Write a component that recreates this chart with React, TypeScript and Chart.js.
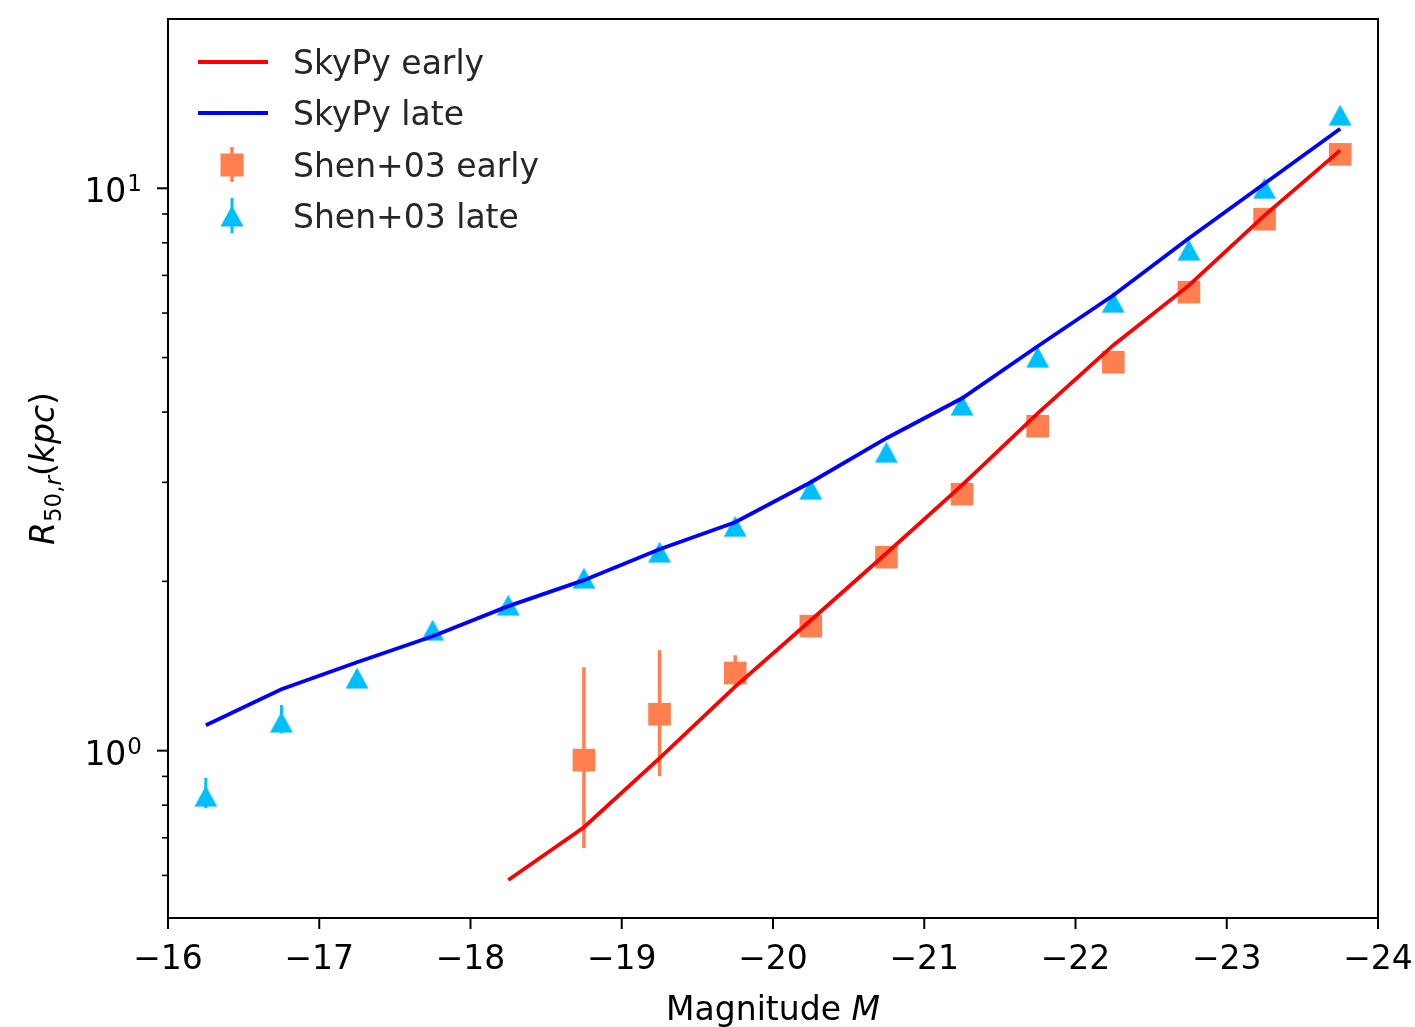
import React, { useEffect, useRef } from "react";
import { Chart, registerables } from "chart.js";
Chart.register(...registerables);

// ---------- data ----------
const lateMagnitudes = [-16.25, -16.75, -17.25, -17.75, -18.25, -18.75, -19.25, -19.75, -20.25, -20.75, -21.25, -21.75, -22.25, -22.75, -23.25, -23.75];
const skypyLate = [1.11, 1.286, 1.436, 1.598, 1.807, 2.01, 2.281, 2.548, 3.001, 3.594, 4.233, 5.238, 6.454, 8.151, 10.2, 12.76];

const skypyEarlyMagnitudes = [-18.25, -18.75, -19.25, -19.75, -20.25, -20.75, -21.25, -21.75, -22.25, -22.75, -23.25, -23.75];
const skypyEarly = [0.589, 0.731, 0.97, 1.3, 1.706, 2.244, 2.965, 3.98, 5.26, 6.72, 8.95, 11.68];

const shenEarlyMagnitudes = [-18.75, -19.25, -19.75, -20.25, -20.75, -21.25, -21.75, -22.25, -22.75, -23.25, -23.75];
const shenEarly = [0.962, 1.161, 1.374, 1.665, 2.208, 2.858, 3.775, 4.906, 6.535, 8.81, 11.49];
const shenEarlyErrLow = [0.671, 0.901, 1.297, 1.62, 2.16, 2.8, 3.7, 4.82, 6.43, 8.68, 11.33];
const shenEarlyErrHigh = [1.407, 1.509, 1.478, 1.71, 2.26, 2.92, 3.85, 4.99, 6.64, 8.94, 11.65];

const shenLate = [0.83, 1.124, 1.346, 1.638, 1.815, 2.026, 2.254, 2.506, 2.917, 3.394, 4.115, 5.008, 6.27, 7.76, 10.0, 13.49];
const shenLateErrLow = [0.79, 1.075, 1.3, 1.6, 1.78, 1.99, 2.21, 2.46, 2.87, 3.34, 4.05, 4.93, 6.18, 7.65, 9.86, 13.3];
const shenLateErrHigh = [0.895, 1.205, 1.39, 1.68, 1.85, 2.06, 2.3, 2.55, 2.97, 3.45, 4.18, 5.09, 6.36, 7.87, 10.14, 13.68];

const xTicks = [-16, -17, -18, -19, -20, -21, -22, -23, -24];
const yMajorTicks = [1, 10];
const yMajorExponents = ["0", "1"];
const yMinorTicks = [0.6, 0.7, 0.8, 0.9, 2, 3, 4, 5, 6, 7, 8, 9];

const legendLabels = ["SkyPy early", "SkyPy late", "Shen+03 early", "Shen+03 late"];

const RED = "#ff0000";
const BLUE = "#0000ff";
const CORAL = "#ff7f50";
const SKY = "#00bfff";
const FONT = "'DejaVu Sans', sans-serif";
const FS = 33;
const FS_SMALL = 23;

function makeTriangle(): HTMLCanvasElement {
  const c = document.createElement("canvas");
  c.width = 24;
  c.height = 22;
  const g = c.getContext("2d")!;
  g.fillStyle = SKY;
  g.beginPath();
  g.moveTo(12, 0.5);
  g.lineTo(0.5, 21.5);
  g.lineTo(23.5, 21.5);
  g.closePath();
  g.fill();
  return c;
}

export default function App() {
  const ref = useRef<HTMLCanvasElement | null>(null);

  useEffect(() => {
    document.body.style.margin = "0";
    const canvas = ref.current!;
    const tri = makeTriangle();

    const errorSets: Record<number, { low: number[]; high: number[]; color: string; width: number }> = {
      2: { low: shenEarlyErrLow, high: shenEarlyErrHigh, color: CORAL, width: 3.5 },
      3: { low: shenLateErrLow, high: shenLateErrHigh, color: SKY, width: 3 },
    };

    const plugin = {
      id: "mplStyle",
      beforeDatasetsDraw(chart: any) {
        const ctx = chart.ctx;
        const xs = chart.scales.x;
        const ys = chart.scales.y;
        ctx.save();
        Object.keys(errorSets).forEach((k) => {
          const i = Number(k);
          const e = errorSets[i];
          const ds = chart.data.datasets[i];
          ctx.strokeStyle = e.color;
          ctx.lineWidth = e.width;
          ds.data.forEach((p: any, j: number) => {
            const px = xs.getPixelForValue(p.x);
            ctx.beginPath();
            ctx.moveTo(px, ys.getPixelForValue(e.low[j]));
            ctx.lineTo(px, ys.getPixelForValue(e.high[j]));
            ctx.stroke();
          });
        });
        ctx.restore();
      },
      afterDraw(chart: any) {
        const ctx = chart.ctx;
        const a = chart.chartArea;
        const xs = chart.scales.x;
        const ys = chart.scales.y;
        ctx.save();
        // frame
        ctx.strokeStyle = "#000";
        ctx.lineWidth = 2;
        ctx.strokeRect(a.left, a.top, a.right - a.left, a.bottom - a.top);
        // x ticks
        ctx.lineWidth = 2;
        ctx.fillStyle = "#000";
        ctx.font = `${FS}px ${FONT}`;
        ctx.textAlign = "center";
        ctx.textBaseline = "alphabetic";
        xTicks.forEach((v) => {
          const px = xs.getPixelForValue(v);
          ctx.beginPath();
          ctx.moveTo(px, a.bottom);
          ctx.lineTo(px, a.bottom + 11);
          ctx.stroke();
          ctx.fillText("\u2212" + Math.abs(v), px, 969);
        });
        // y ticks
        yMajorTicks.forEach((v, i) => {
          const py = ys.getPixelForValue(v);
          ctx.beginPath();
          ctx.moveTo(a.left - 11, py);
          ctx.lineTo(a.left, py);
          ctx.stroke();
          ctx.font = `${FS_SMALL}px ${FONT}`;
          const ew = ctx.measureText(yMajorExponents[i]).width;
          ctx.textAlign = "right";
          ctx.fillText(yMajorExponents[i], 142, py + 3);
          ctx.font = `${FS}px ${FONT}`;
          ctx.fillText("10", 142 - ew - 1, py + 14);
        });
        ctx.lineWidth = 1.6;
        yMinorTicks.forEach((v) => {
          const py = ys.getPixelForValue(v);
          ctx.beginPath();
          ctx.moveTo(a.left - 6, py);
          ctx.lineTo(a.left, py);
          ctx.stroke();
        });
        // x title
        ctx.textAlign = "left";
        const t1 = "Magnitude ";
        ctx.font = `${FS}px ${FONT}`;
        const w1 = ctx.measureText(t1).width;
        ctx.font = `italic ${FS}px ${FONT}`;
        const w2 = ctx.measureText("M").width;
        const cx = (a.left + a.right) / 2;
        const sx = cx - (w1 + w2) / 2;
        ctx.font = `${FS}px ${FONT}`;
        ctx.fillText(t1, sx, 1020);
        ctx.font = `italic ${FS}px ${FONT}`;
        ctx.fillText("M", sx + w1, 1020);
        // y title
        const parts: { t: string; f: string; dy: number }[] = [
          { t: "R", f: `italic ${FS}px ${FONT}`, dy: 0 },
          { t: "50,", f: `${FS_SMALL}px ${FONT}`, dy: 7 },
          { t: "r", f: `italic ${FS_SMALL}px ${FONT}`, dy: 7 },
          { t: "(", f: `${FS}px ${FONT}`, dy: 0 },
          { t: "kpc", f: `italic ${FS}px ${FONT}`, dy: 0 },
          { t: ")", f: `${FS}px ${FONT}`, dy: 0 },
        ];
        let total = 0;
        const widths = parts.map((p) => {
          ctx.font = p.f;
          const w = ctx.measureText(p.t).width;
          total += w;
          return w;
        });
        ctx.translate(54, (a.top + a.bottom) / 2);
        ctx.rotate(-Math.PI / 2);
        let lx = -total / 2;
        parts.forEach((p, i) => {
          ctx.font = p.f;
          ctx.fillText(p.t, lx, p.dy);
          lx += widths[i];
        });
        ctx.setTransform(1, 0, 0, 1, 0, 0);
        // legend
        const rows = [62, 113, 165, 216];
        ctx.font = `${FS}px ${FONT}`;
        ctx.textAlign = "left";
        legendLabels.forEach((lab, i) => {
          const y = rows[i];
          if (i === 0 || i === 1) {
            ctx.strokeStyle = i === 0 ? RED : BLUE;
            ctx.lineWidth = 3.8;
            ctx.beginPath();
            ctx.moveTo(198, y);
            ctx.lineTo(268, y);
            ctx.stroke();
          } else if (i === 2) {
            ctx.strokeStyle = CORAL;
            ctx.lineWidth = 3.5;
            ctx.beginPath();
            ctx.moveTo(232, y - 18);
            ctx.lineTo(232, y + 17);
            ctx.stroke();
            ctx.fillStyle = CORAL;
            ctx.fillRect(232 - 11.5, y - 11.5, 23, 23);
          } else {
            ctx.strokeStyle = SKY;
            ctx.lineWidth = 3;
            ctx.beginPath();
            ctx.moveTo(232, y - 18);
            ctx.lineTo(232, y + 17);
            ctx.stroke();
            ctx.drawImage(tri, 232 - tri.width / 2, y - tri.height / 2);
          }
          ctx.fillStyle = "#262626";
          ctx.fillText(lab, 293, y + 12);
        });
        ctx.restore();
      },
    };

    const chart = new Chart(canvas, {
      type: "scatter",
      data: {
        datasets: [
          {
            label: legendLabels[0],
            data: skypyEarlyMagnitudes.map((m, i) => ({ x: m, y: skypyEarly[i] })),
            showLine: true,
            borderColor: RED,
            borderWidth: 3.8,
            pointRadius: 0,
            fill: false,
          },
          {
            label: legendLabels[1],
            data: lateMagnitudes.map((m, i) => ({ x: m, y: skypyLate[i] })),
            showLine: true,
            borderColor: BLUE,
            borderWidth: 3.8,
            pointRadius: 0,
            fill: false,
          },
          {
            label: legendLabels[2],
            data: shenEarlyMagnitudes.map((m, i) => ({ x: m, y: shenEarly[i] })),
            showLine: false,
            pointStyle: "rect",
            pointRadius: 16,
            pointBackgroundColor: CORAL,
            pointBorderWidth: 0,
            pointBorderColor: CORAL,
          },
          {
            label: legendLabels[3],
            data: lateMagnitudes.map((m, i) => ({ x: m, y: shenLate[i] })),
            showLine: false,
            pointStyle: tri as any,
            pointRadius: 11,
            pointBorderWidth: 0,
          },
        ],
      },
      options: {
        responsive: false,
        animation: false,
        events: [],
        layout: { padding: { left: 0, top: 19, right: 37, bottom: 0 } },
        plugins: { legend: { display: false }, tooltip: { enabled: false }, title: { display: false } },
        scales: {
          x: {
            type: "linear",
            min: -24,
            max: -16,
            reverse: true,
            grid: { display: false },
            border: { display: false },
            ticks: { display: false },
            afterFit: (s: any) => {
              s.height = 109;
            },
          },
          y: {
            type: "logarithmic",
            min: 0.504,
            max: 20,
            grid: { display: false },
            border: { display: false },
            ticks: { display: false },
            afterFit: (s: any) => {
              s.width = 168;
            },
          },
        },
      },
      plugins: [plugin],
    } as any);

    return () => chart.destroy();
  }, []);

  return <canvas ref={ref} width={1415} height={1027} style={{ display: "block", width: 1415, height: 1027 }} />;
}
